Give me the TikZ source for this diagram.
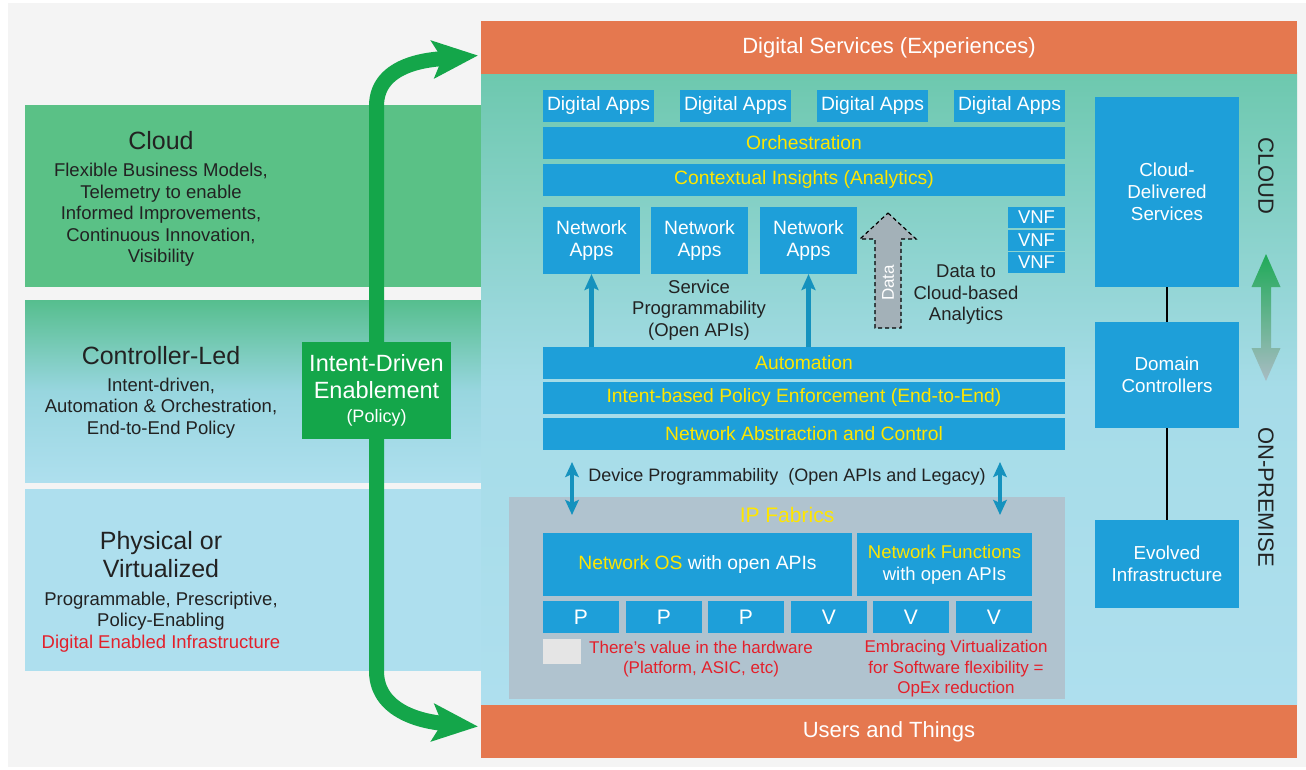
\documentclass[tikz,border=0pt]{standalone}
\usepackage{fontspec}
\setmainfont{Liberation Sans}
\usetikzlibrary{arrows.meta,calc,positioning}
\definecolor{pagegrey}{HTML}{F4F4F4}
\definecolor{ciscoblue}{HTML}{1E9FD9}
\definecolor{bandorange}{HTML}{E5784F}
\definecolor{cloudgreen}{HTML}{5AC186}
\definecolor{ctrlgreen}{HTML}{56BE8E}
\definecolor{ctrlmid}{HTML}{98D6DF}
\definecolor{skyblue}{HTML}{AEDFEE}
\definecolor{tealtop}{HTML}{6DC8AE}
\definecolor{midblue}{HTML}{A6DCE8}
\definecolor{intentgreen}{HTML}{14A64A}
\definecolor{fabricgrey}{HTML}{B0C3CF}
\definecolor{labelyellow}{HTML}{FFE600}
\definecolor{notered}{HTML}{E3202B}
\definecolor{apiblue}{HTML}{1592BE}
\definecolor{datagrey}{HTML}{A3B1B8}
\definecolor{swatchgrey}{HTML}{E5E5E5}
\definecolor{textdark}{HTML}{222222}
\definecolor{arrowgreen}{HTML}{1FAA58}
\definecolor{arrowgrey}{HTML}{A9BCC4}
\newcommand{\pxfont}[2]{\fontsize{#1}{#2}\selectfont}

\begin{document}
\begin{tikzpicture}
  [
    x=1pt, y=-1pt,
    panel/.style =
      {inner sep=0pt, outer sep=0pt, anchor=north west},
    blk/.style =
      {panel, fill=ciscoblue, text=white, align=center, font=\pxfont{19.3}{22}},
    layer/.style =
      {blk, text=labelyellow, minimum width=522pt, minimum height=32pt},
    pv/.style =
      {blk, minimum width=75.5pt, minimum height=32pt, font=\pxfont{21}{24}},
    vnf/.style =
      {blk, minimum width=57pt, minimum height=21pt, font=\pxfont{18.5}{20}},
    rcol/.style =
      {blk, minimum width=144pt, font=\pxfont{18.8}{22}},
    band/.style =
      {panel, fill=bandorange, text=white, minimum width=816pt,
       minimum height=53pt, font=\pxfont{22}{24}},
    side/.style =
      {panel, minimum width=456pt, minimum height=182pt},
    txt/.style =
      {inner sep=0pt, align=center, text=textdark, font=\pxfont{18.5}{21.5}},
    head/.style =
      {txt, font=\pxfont{25}{28}},
    note/.style =
      {txt, text=notered, font=\pxfont{17}{20.5}},
    upar/.style =
      {-{Stealth[length=16pt, width=14pt, inset=3pt]}, line width=5pt, apiblue},
    devar/.style =
      {{Stealth[length=15pt, width=13.5pt, inset=3pt]}-{Stealth[length=15pt, width=13.5pt, inset=3pt]},
       line width=4.5pt, apiblue},
    policyar/.style =
      {-{Stealth[length=45pt, width=37pt, inset=9pt]}, line width=15pt, intentgreen}
  ]
  \useasboundingbox (0,0) rectangle (1306,769);
  \fill[white] (0,0) rectangle (1306,769);
  \fill[pagegrey] (8,3) rectangle (1306,767);

  % left side bands
  \node [side, fill=cloudgreen] at (25,105) (cloudp) {};
  \node [side, top color=ctrlgreen, bottom color=skyblue, middle color=ctrlmid]
    at (25,300) (ctrlp) {};
  \node [side, fill=skyblue] at (25,489) (physp) {};

  \node [head] at (161,141) (cloudhd) {Cloud};
  \node [txt] at (161,215) (cloudtx)
    {Flexible Business Models,\\Telemetry to enable\\Informed Improvements,\\Continuous Innovation,\\Visibility};
  \node [head] at (161,356) (ctrlhd) {Controller-Led};
  \node [txt] at (161,408) (ctrltx)
    {Intent-driven,\\Automation \& Orchestration,\\End-to-End Policy};
  \node [head] at (161,555) (physhd) {Physical or\\Virtualized};
  \node [txt] at (161,622) (phystx)
    {Programmable, Prescriptive,\\Policy-Enabling\\{\color{notered}Digital Enabled Infrastructure}};

  % main stack
  \node [panel, minimum width=816pt, minimum height=632pt,
         top color=tealtop, bottom color=skyblue, middle color=midblue]
    at (481,72) (mainp) {};
  \node [band] at (481,21) (svc) {Digital Services (Experiences)};
  \node [band] at (481,705) (users) {Users and Things};

  \foreach \x [count=\i] in {543,680,817,954}
    \node [blk, minimum width=111pt, minimum height=32pt]
      at (\x,90) (da\i) {Digital Apps};
  \node [layer] at (543,127) (orch) {Orchestration};
  \node [layer] at (543,164) (ctx) {Contextual Insights (Analytics)};

  \node [blk, minimum width=97pt, minimum height=67pt] at (543,207) (na1) {Network\\Apps};
  \node [blk, minimum width=97pt, minimum height=67pt] at (651,207) (na2) {Network\\Apps};
  \node [blk, minimum width=97pt, minimum height=67pt] at (760,207) (na3) {Network\\Apps};

  \node [vnf] at (1008,207) (vnf1) {VNF};
  \node [vnf] at (1008,229.5) (vnf2) {VNF};
  \node [vnf] at (1008,252) (vnf3) {VNF};

  \filldraw [fill=datagrey, draw=black, line width=1.2pt, dash pattern=on 4pt off 3pt]
    (888,213) -- (916,239) -- (901,239) -- (901,328) -- (875,328)
    -- (875,239) -- (860,239) -- cycle;
  \node [txt, text=white, rotate=90, font=\pxfont{17}{20}] at (888,283) (datatxt) {Data};
  \node [txt] at (966,295) (dtc) {Data to\\Cloud-based\\Analytics};
  \node [txt] at (699,310) (svcprog) {Service\\Programmability\\(Open APIs)};

  \node [layer] at (543,347) (auto) {Automation};
  \node [layer] at (543,382) (ibpe) {Intent-based Policy Enforcement (End-to-End)};
  \node [layer] at (543,418) (nac) {Network Abstraction and Control};

  \draw [upar] (na1.south |- auto.north) -- (na1.south);
  \draw [upar] (na3.south |- auto.north) -- (na3.south);

  % fabric
  \node [panel, fill=fabricgrey, minimum width=556pt, minimum height=202pt]
    at (509,497) (ipf) {};
  \node [txt, text=labelyellow, font=\pxfont{21}{24}] at (787,515) (ipflbl) {IP Fabrics};
  \node [txt, font=\pxfont{18}{21}] at (787,477) (devprog)
    {Device Programmability~ (Open APIs and Legacy)};

  \coordinate (dpa) at (572,462);
  \coordinate (dpb) at (572,515);
  \coordinate (dpc) at (1000,462);
  \coordinate (dpd) at (1000,515);
  \draw [devar] (dpa) -- (dpb);
  \draw [devar] (dpc) -- (dpd);

  \node [blk, minimum width=309pt, minimum height=63pt] at (543,533) (nos)
    {{\color{labelyellow}Network OS} with open APIs};
  \node [blk, minimum width=175pt, minimum height=63pt, font=\pxfont{18.5}{22}]
    at (857,533) (nfn)
    {{\color{labelyellow}Network Functions}\\with open APIs};

  \node [pv] at (543,601) (p1) {P};
  \node [pv] at (626,601) (p2) {P};
  \node [pv] at (708,601) (p3) {P};
  \node [pv] at (791,601) (v1) {V};
  \node [pv] at (873,601) (v2) {V};
  \node [pv] at (956,601) (v3) {V};

  \node [panel, fill=swatchgrey, minimum width=37.6pt, minimum height=25pt]
    at (543,639) (swatch) {};
  \node [note] at (701,659) (hwnote)
    {There’s value in the hardware\\(Platform, ASIC, etc)};
  \node [note] at (956,669) (virtnote)
    {Embracing Virtualization\\for Software flexibility =\\OpEx reduction};

  % right column
  \node [rcol, minimum height=190pt] at (1095,97) (cds) {Cloud-\\Delivered\\Services};
  \node [rcol, minimum height=106pt] at (1095,322) (dc) {Domain\\Controllers};
  \node [rcol, minimum height=88pt] at (1095,520) (ei) {Evolved\\Infrastructure};
  \draw [line width=1.5pt, black] (cds) -- (dc);
  \draw [line width=1.5pt, black] (dc) -- (ei);

  \node [txt, rotate=-90, font=\pxfont{22}{24}] at (1266,176) (cloudlbl) {CLOUD};
  \node [txt, rotate=-90, font=\pxfont{22}{24}] at (1266,497) (premlbl) {ON-PREMISE};
  \shade [top color=arrowgreen, bottom color=arrowgrey]
    (1266,254) -- (1280.5,287) -- (1271,287) -- (1271,348) -- (1280.5,348)
    -- (1266,381) -- (1251.5,348) -- (1261,348) -- (1261,287) -- (1251.5,287) -- cycle;

  % intent arrow
  \node [panel, fill=intentgreen, minimum width=149pt, minimum height=97pt]
    at (302,342) (intent) {};
  \coordinate (gtop) at ($(svc.west)+(-3,8)$);
  \coordinate (gbot) at ($(users.west)+(-3,-5)$);
  \draw [policyar] (intent.north) -- ++(0,-236) to[out=90, in=185] (gtop);
  \draw [policyar] (intent.south) -- ++(0,232) to[out=-90, in=175] (gbot);
  \node [panel, fill=intentgreen, text=white, align=center, minimum width=149pt,
         minimum height=97pt, font=\pxfont{23.5}{27}]
    at (302,342) (intenttx) {Intent-Driven\\Enablement\\[-3pt]{\pxfont{18}{20}(Policy)}};

\end{tikzpicture}
\end{document}
